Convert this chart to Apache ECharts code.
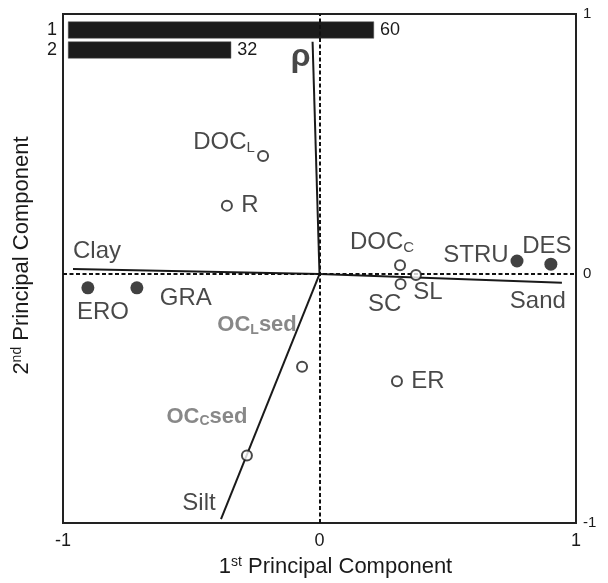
<!DOCTYPE html>
<html>
<head>
<meta charset="utf-8">
<script src="https://cdn.jsdelivr.net/npm/echarts@6/dist/echarts.min.js"></script>
<style>html,body{margin:0;padding:0;background:#fff;}#chart{width:608px;height:583px;}</style>
</head>
<body>
<div id="chart"></div>
<script>
// ---- data ----
const barCategories = ['1', '2'];
const barValues = [60, 32];

const vectorNames = ['ρ', 'Clay', 'Sand', 'Silt'];
const vectorX = [-0.027, -0.961, 0.945, -0.384];
const vectorY = [0.893, 0.019, -0.034, -0.943];

const openNames = ['DOCL', 'R', 'DOCC', 'SL', 'SC', 'ER', 'OCLsed', 'OCCsed'];
const openX = [-0.220, -0.361, 0.314, 0.376, 0.316, 0.302, -0.068, -0.283];
const openY = [0.454, 0.263, 0.034, -0.004, -0.038, -0.412, -0.357, -0.698];

const filledNames = ['STRU', 'DES', 'ERO', 'GRA'];
const filledX = [0.770, 0.902, -0.903, -0.712];
const filledY = [0.050, 0.038, -0.053, -0.053];

const xTickLabels = ['-1', '0', '1'];
const yTickLabels = ['-1', '0', '1'];

// ---- presentation ----
const FONT = 'Liberation Sans, Arial, sans-serif';
const Y_MIN = -0.958, Y_MAX = 1;

const display = {
  'ρ': '{rho|ρ}', Clay: '{n|Clay}', Sand: '{n|Sand}', Silt: '{n|Silt}',
  DOCL: '{n|DOC}{s|L}', R: '{n|R}', DOCC: '{n|DOC}{s|C}', SL: '{n|SL}', SC: '{n|SC}', ER: '{n|ER}',
  OCLsed: '{g|OC}{gs|L}{g|sed}', OCCsed: '{g|OC}{gs|C}{g|sed}',
  STRU: '{n|STRU}', DES: '{n|DES}', ERO: '{n|ERO}', GRA: '{n|GRA}'
};
const labelOffsets = {
  'ρ': [-12, 15], Clay: [24, -18], Sand: [-24, 19], Silt: [-22, -16],
  DOCL: [-39, -14], R: [23, 0], DOCC: [-18, -23], SL: [12, 17], SC: [-16, 20], ER: [31, 0],
  OCLsed: [-45, -42], OCCsed: [-40, -39],
  STRU: [-41, -6], DES: [-4, -18], ERO: [15, 25], GRA: [49, 11]
};
const nb = { textBorderWidth: 0, textShadowBlur: 0 };
const rich = {
  n: Object.assign({ fontSize: 24, fontFamily: FONT, color: '#1a1a1a', lineHeight: 26 }, nb),
  s: Object.assign({ fontSize: 15, fontFamily: FONT, color: '#1a1a1a', verticalAlign: 'bottom', lineHeight: 15 }, nb),
  g: Object.assign({ fontSize: 22, fontFamily: FONT, fontWeight: 'bold', color: '#6a6a6a', lineHeight: 24 }, nb),
  gs: Object.assign({ fontSize: 14, fontFamily: FONT, fontWeight: 'bold', color: '#6a6a6a', verticalAlign: 'bottom', lineHeight: 14 }, nb),
  rho: Object.assign({ fontSize: 32, fontFamily: FONT, fontWeight: 'bold', color: '#1a1a1a', lineHeight: 32 }, nb)
};
const labelCfg = {
  show: true, position: 'inside', align: 'center', verticalAlign: 'middle',
  color: '#1a1a1a', textBorderWidth: 0, textBorderColor: 'transparent',
  formatter: p => display[p.name], rich: rich
};
function items(names, xs, ys) {
  return names.map((n, i) => ({ name: n, value: [xs[i], ys[i]], label: { offset: labelOffsets[n] } }));
}

const series = [];
// zero reference lines
series.push({
  type: 'line', xAxisIndex: 0, yAxisIndex: 0, data: [], silent: true,
  markLine: {
    silent: true, symbol: ['none', 'none'], label: { show: false },
    lineStyle: { color: '#111', width: 2, type: [4, 2.5] },
    emphasis: { disabled: true },
    data: [{ xAxis: 0 }, { yAxis: 0 }]
  }
});
// loading vectors
vectorNames.forEach((n, i) => {
  series.push({
    type: 'line', xAxisIndex: 0, yAxisIndex: 0, symbol: 'none', silent: true, z: 3,
    lineStyle: { color: '#1a1a1a', width: 2 },
    data: [[0, 0], [vectorX[i], vectorY[i]]]
  });
});
series.push({
  type: 'scatter', xAxisIndex: 0, yAxisIndex: 0, symbolSize: 1, silent: true, z: 4,
  itemStyle: { color: 'rgba(0,0,0,0)' },
  label: labelCfg,
  data: items(vectorNames, vectorX, vectorY)
});
// open circles
series.push({
  type: 'scatter', xAxisIndex: 0, yAxisIndex: 0, symbol: 'circle', symbolSize: 10, silent: true, z: 5,
  itemStyle: { color: '#fff', borderColor: '#1a1a1a', borderWidth: 2 },
  label: labelCfg,
  data: items(openNames, openX, openY)
});
// filled circles
series.push({
  type: 'scatter', xAxisIndex: 0, yAxisIndex: 0, symbol: 'circle', symbolSize: 13, silent: true, z: 5,
  itemStyle: { color: '#111' },
  label: labelCfg,
  data: items(filledNames, filledX, filledY)
});
// explained-variance bars
series.push({
  type: 'bar', xAxisIndex: 1, yAxisIndex: 2, barWidth: 17, silent: true,
  itemStyle: { color: '#1c1c1c', borderColor: '#555', borderWidth: 0.5 },
  label: { show: true, position: 'right', distance: 6, fontSize: 18, fontFamily: FONT, color: '#1a1a1a' },
  data: barValues
});

const chart = echarts.init(document.getElementById('chart'), null, { renderer: 'canvas' });
chart.setOption({
  backgroundColor: '#fff',
  animation: false,
  textStyle: { fontFamily: FONT },
  grid: [
    { left: 63, top: 14, width: 513, height: 513, show: true, borderColor: '#222', borderWidth: 2, backgroundColor: 'transparent' },
    { left: 68, top: 20, width: 510, height: 40 }
  ],
  xAxis: [
    {
      gridIndex: 0, type: 'value', min: -1, max: 1, interval: 1,
      axisLine: { show: false }, axisTick: { show: false }, splitLine: { show: false },
      axisLabel: { fontSize: 18, color: '#1a1a1a', margin: 9, formatter: v => xTickLabels[Math.round(v) + 1] },
      name: '{a|1}{sup|st}{a| Principal Component}', nameLocation: 'middle', nameGap: 28,
      nameTextStyle: {
        padding: [0, 0, 0, 32],
        rich: {
          a: { fontSize: 22, fontFamily: FONT, color: '#1a1a1a', lineHeight: 24 },
          sup: { fontSize: 14, fontFamily: FONT, color: '#1a1a1a', verticalAlign: 'top', lineHeight: 14 }
        }
      }
    },
    { gridIndex: 1, type: 'value', min: 0, max: 100, show: false }
  ],
  yAxis: [
    {
      gridIndex: 0, type: 'value', min: Y_MIN, max: Y_MAX, position: 'left',
      axisLine: { show: false }, axisTick: { show: false }, splitLine: { show: false }, axisLabel: { show: false },
      name: '{a|2}{sup|nd}{a| Principal Component}', nameLocation: 'middle', nameGap: 29, nameRotate: 90,
      nameTextStyle: {
        padding: [0, 0, 0, 26],
        rich: {
          a: { fontSize: 22, fontFamily: FONT, color: '#1a1a1a', lineHeight: 24 },
          sup: { fontSize: 14, fontFamily: FONT, color: '#1a1a1a', verticalAlign: 'top', lineHeight: 14 }
        }
      }
    },
    {
      gridIndex: 0, type: 'value', min: Y_MIN, max: Y_MAX, position: 'right',
      axisLine: { show: false }, axisTick: { show: false }, splitLine: { show: false },
      axisLabel: {
        fontSize: 15, color: '#1a1a1a', margin: 7,
        customValues: [Y_MIN, 0, Y_MAX],
        formatter: v => (v < -0.5 ? yTickLabels[0] : v > 0.5 ? yTickLabels[2] : yTickLabels[1])
      }
    },
    {
      gridIndex: 1, type: 'category', data: barCategories, inverse: true,
      axisLine: { show: false }, axisTick: { show: false }, splitLine: { show: false },
      axisLabel: { fontSize: 18, color: '#1a1a1a', margin: 11, interval: 0 }
    }
  ],
  series: series
});
</script>
</body>
</html>
